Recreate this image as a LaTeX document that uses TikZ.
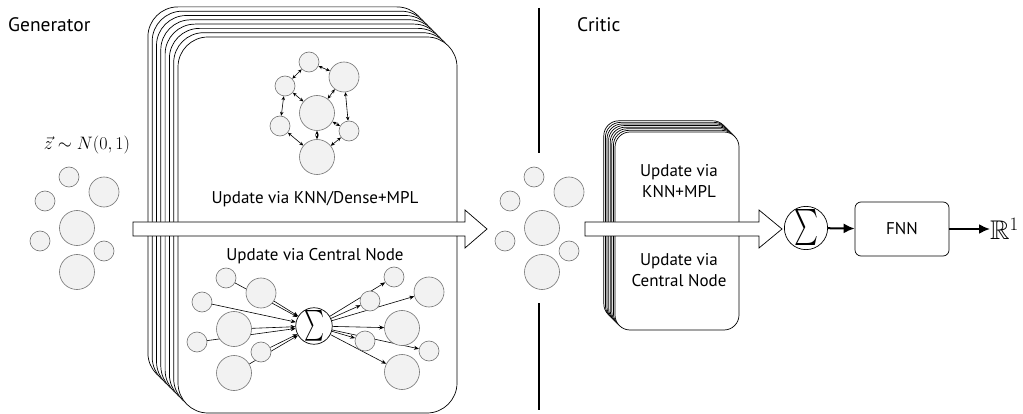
\RequirePackage{fix-cm}
\documentclass[tikz,border=0pt]{standalone}
\usepackage{amsmath,amssymb,graphicx}
\usepackage{fontspec}
\setmainfont{PT Sans}
\usetikzlibrary{arrows.meta}
\pgfdeclarelayer{stack}
\pgfdeclarelayer{edges}
\pgfsetlayers{stack,edges,main}
\newcommand\pcloud[4]{%
\begin{scope}[shift={(#2,#3)}]
\node[pt,big] (#1c) at (0,0) {};
\node[pt,sm] (#1ts) at (-8,-51) {};
\node[pt,md] (#1rb) at (27,-36) {};
\node[pt,sm] (#1l) at (-32,-27) {};
\node[pt,sm] (#1ll) at (-37,13) {};
\node[pt,sm] (#1rs) at #4 {};
\node[pt,big] (#1b) at (0,44) {};
\end{scope}}
\newcommand\bigarrow[3]{%
\draw[bigarr] (#1,222) -- (#2,222) -- (#2,210) -- (#3,229) -- (#2,248) -- (#2,236) -- (#1,236) -- cycle;}
\begin{document}
\begin{tikzpicture}[x=1pt,y=-1pt,
  pt/.style={circle,draw=black!55,fill=black!5,line width=0.6pt,inner sep=0pt},
  sm/.style={minimum size=20pt},
  md/.style={minimum size=30pt},
  big/.style={minimum size=35pt},
  dbl/.style={{Stealth[length=4pt,width=3.5pt]}-{Stealth[length=4pt,width=3.5pt]},line width=0.6pt},
  sarr/.style={-{Stealth[length=5pt,width=4pt]},line width=0.6pt},
  sumnode/.style={circle,draw,fill=white,line width=0.7pt,inner sep=0pt},
  stk/.style={draw,fill=white,line width=0.7pt},
  bigarr/.style={draw,fill=white,line width=0.7pt},
  lbl/.style={font=\fontsize{17}{20.5}\selectfont,inner sep=0pt},
  hdr/.style={font=\fontsize{19.5}{22}\selectfont,inner sep=0pt},
  thickarr/.style={-{Latex[length=11pt,width=10pt]},line width=2pt},
  divider/.style={line width=2.2pt}]
\useasboundingbox (0,0) rectangle (1023,414);
% headers
\node[hdr,anchor=base west] (gen) at (8,32) {Generator};
\node[hdr,anchor=base west] (cri) at (577,32) {Critic};
% stacks
\begin{pgfonlayer}{stack}
\foreach \k in {7,6,...,0}
  \draw[stk,rounded corners=30pt] (178-4.3*\k,37-4.3*\k) rectangle ++(279,376);
\foreach \k in {7,6,...,0}
  \draw[stk,rounded corners=15pt] (615-1.6*\k,132-1.6*\k) rectangle ++(124,198);
\end{pgfonlayer}
% input
\node[font=\fontsize{18}{20}\selectfont,anchor=base] (z) at (87,150) {$\vec{z}\sim N(0,1)$};
\pcloud{i}{77}{228}{(27,23)}
% top graph
\pcloud{t}{317}{113}{(32,18)}
\begin{pgfonlayer}{edges}
\foreach \u/\v in {ts/l,ts/rb,l/c,rb/c,l/ll,rb/rs,c/rs,c/b,ll/b,rs/b}
  \draw[dbl] (t\u) -- (t\v);
\end{pgfonlayer}
\node[lbl,anchor=base] (knn) at (315,204) {Update via KNN/Dense+MPL};
\node[lbl,anchor=base] (cen) at (315,261) {Update via Central Node};
% bottom graph
\node[sumnode,minimum size=35pt] (gsum) at (314,326) {\resizebox{20pt}{23pt}{$\sum$}};
\pcloud{a}{234}{329}{(27,23)}
\pcloud{r}{402}{328}{(27,23)}
\begin{pgfonlayer}{edges}
\foreach \u in {ts,rb,l,c,ll,rs,b} {
  \draw[sarr] (a\u) -- (gsum);
  \draw[sarr] (gsum) -- (r\u);
}
\end{pgfonlayer}
% generator arrow
\bigarrow{133}{465}{487}
% divider
\draw[divider] (539,8) -- (539,153);
\draw[divider] (539,303) -- (539,410);
% generated cloud
\pcloud{m}{542}{228}{(27,23)}
% critic
\node[lbl,align=center] (c1) at (679,181) {Update via\\KNN+MPL};
\node[lbl,align=center] (c2) at (679,270) {Update via\\Central Node};
\bigarrow{585}{759}{782}
\node[sumnode,minimum size=40pt] (csum) at (806,228) {\resizebox{24pt}{27pt}{$\sum$}};
\node[draw,rounded corners=6pt,line width=0.7pt,minimum width=94pt,minimum height=54pt,lbl] (fnn) at (902,229) {FNN};
\node[anchor=base west,inner sep=0pt,font=\fontsize{27}{27}\selectfont] (rr) at (990,240) {$\mathbb{R}^1$};
\draw[thickarr] (csum) -- (fnn);
\draw[thickarr] (fnn.east) -- (fnn.east -| rr.west);
\end{tikzpicture}
\end{document}
